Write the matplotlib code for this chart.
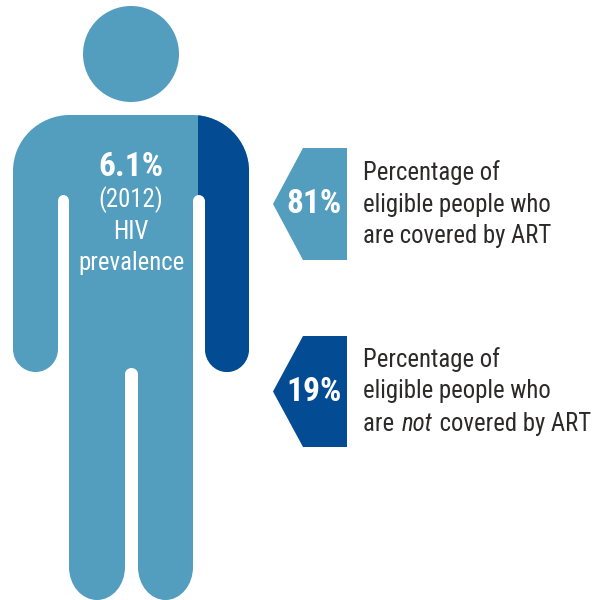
import matplotlib
matplotlib.use("Agg")
import matplotlib.pyplot as plt
from matplotlib.patches import Circle, PathPatch, Polygon, Rectangle
from matplotlib.path import Path

# Values and wording shown on the figure
prevalence_label = "6.1%"
prevalence_lines = ["(2012)", "HIV", "prevalence"]
coverage_pct = [81, 19]
coverage_lines = [
    ["Percentage of", "eligible people who", [("are covered by ART", "normal")]],
    ["Percentage of", "eligible people who",
     [("are ", "normal"), ("not", "italic"), (" covered by ART", "normal")]],
]

LIGHT = "#539DBF"
DARK = "#034B92"
INK = "#2B2A29"
FONT = ["Roboto Condensed", "Liberation Sans", "DejaVu Sans"]
KAPPA = 0.5523


def corner(verts, codes, p0, p1, first_horizontal):
    """Append a quarter-ellipse from p0 to p1."""
    (x0, y0), (x1, y1) = p0, p1
    if first_horizontal:
        c1 = (x0 + (x1 - x0) * KAPPA, y0)
        c2 = (x1, y1 - (y1 - y0) * KAPPA)
    else:
        c1 = (x0, y0 + (y1 - y0) * KAPPA)
        c2 = (x1 - (x1 - x0) * KAPPA, y1)
    verts.extend([c1, c2, p1])
    codes.extend([Path.CURVE4] * 3)


def line(verts, codes, p):
    verts.append(p)
    codes.append(Path.LINETO)


def cap(verts, codes, x_from, x_to, y_side, y_end):
    """Rounded end between two vertical edges."""
    mid = (x_from + x_to) / 2
    corner(verts, codes, (x_from, y_side), (mid, y_end), False)
    corner(verts, codes, (mid, y_end), (x_to, y_side), True)


def body_path():
    v = [(13, 171)]
    c = [Path.MOVETO]
    corner(v, c, (13, 171), (70, 115), False)
    line(v, c, (192, 115))
    corner(v, c, (192, 115), (249, 171), True)
    line(v, c, (249, 349))
    cap(v, c, 249, 205, 349, 372)
    line(v, c, (205, 201))
    cap(v, c, 205, 193, 201, 195)
    line(v, c, (193, 567))
    cap(v, c, 193, 138, 567, 600)
    line(v, c, (138, 374))
    cap(v, c, 138, 125, 374, 368)
    line(v, c, (125, 567))
    cap(v, c, 125, 69, 567, 600)
    line(v, c, (69, 201))
    cap(v, c, 69, 58, 201, 195)
    line(v, c, (58, 349))
    cap(v, c, 58, 13, 349, 372)
    v.append((13, 171))
    c.append(Path.CLOSEPOLY)
    return Path(v, c)


fig = plt.figure(figsize=(6.05, 6.0), dpi=100)
ax = fig.add_axes([0, 0, 1, 1])
ax.set_xlim(0, 605)
ax.set_ylim(600, 0)
ax.axis("off")

# Figure of a person: head, body, and the darker shoulder and arm
ax.add_patch(Circle((131, 54), 48, fc=LIGHT, ec="none"))
body = PathPatch(body_path(), fc=LIGHT, ec="none")
ax.add_patch(body)
shade = Rectangle((198, 100), 60, 290, fc=DARK, ec="none")
ax.add_patch(shade)
shade.set_clip_path(body_path(), ax.transData)

BODY_SIZE = 17.8
BOLD_SIZE = 24
text_kw = dict(family=FONT, va="baseline")

ax.text(131, 176, prevalence_label, color="white", ha="center",
        fontsize=BOLD_SIZE, fontweight="bold", **text_kw)
for label, y in zip(prevalence_lines, [207, 239, 270]):
    ax.text(131, y, label, color="white", ha="center", fontsize=BODY_SIZE, **text_kw)

# Arrow-shaped callouts with their descriptions
arrow_tops = [148, 336]
arrow_bottoms = [260, 447]
pct_baselines = [213, 401]
line_baselines = [[180, 212, 243], [367, 398, 431]]
colors = [LIGHT, DARK]

for pct, lines, top, bottom, base, ys, col in zip(
        coverage_pct, coverage_lines, arrow_tops, arrow_bottoms,
        pct_baselines, line_baselines, colors):
    ax.add_patch(Polygon([(303, top), (347, top), (347, bottom), (303, bottom),
                          (273, (top + bottom) / 2)], closed=True, fc=col, ec="none"))
    ax.text(314, base, f"{pct}%", color="white", ha="center",
            fontsize=BOLD_SIZE, fontweight="bold", **text_kw)
    for entry, y in zip(lines, ys):
        runs = [(entry, "normal")] if isinstance(entry, str) else entry
        x = 363
        for run, style in runs:
            t = ax.text(x, y, run.replace(" ", "\u00a0"), color=INK, ha="left",
                        fontsize=BODY_SIZE, fontstyle=style, **text_kw)
            fig.canvas.draw()
            # Small gap after each run so the italic word sits clear of its neighbours
            x = ax.transData.inverted().transform(
                (t.get_window_extent().x1, 0))[0] + 1.5

fig.savefig("out.png", dpi=100)
